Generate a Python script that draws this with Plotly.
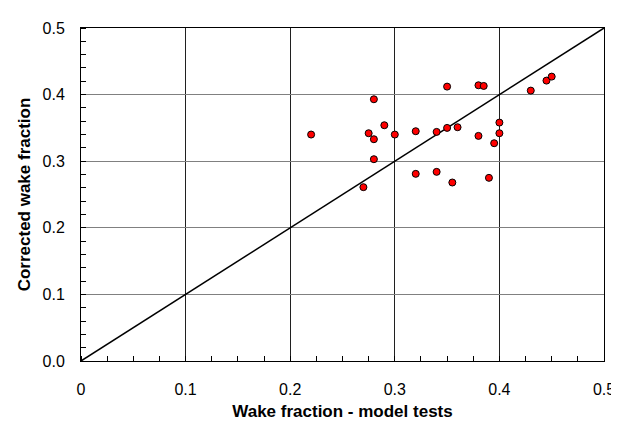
import plotly.graph_objects as go

# Data
wake_model = [0.22, 0.27, 0.275, 0.28, 0.28, 0.28, 0.29, 0.30, 0.32, 0.32,
              0.34, 0.34, 0.35, 0.35, 0.355, 0.36, 0.38, 0.38, 0.385, 0.39,
              0.395, 0.40, 0.40, 0.43, 0.445, 0.45]
wake_corrected = [0.340, 0.261, 0.342, 0.393, 0.333, 0.303, 0.354, 0.340, 0.345, 0.281,
                  0.344, 0.284, 0.412, 0.350, 0.268, 0.351, 0.414, 0.338, 0.413, 0.275,
                  0.327, 0.358, 0.342, 0.406, 0.421, 0.427]
diag_x = [0.0, 0.5]
diag_y = [0.0, 0.5]
x_ticks = [0, 0.1, 0.2, 0.3, 0.4, 0.5]
x_ticktext = ["0", "0.1", "0.2", "0.3", "0.4", "0.5"]
y_ticks = [0, 0.1, 0.2, 0.3, 0.4, 0.5]
y_ticktext = ["0.0", "0.1", "0.2", "0.3", "0.4", "0.5"]

FONT = "Liberation Sans, Arial, sans-serif"

fig = go.Figure()
fig.add_trace(go.Scatter(x=diag_x, y=diag_y, mode="lines",
                         line=dict(color="black", width=1.5),
                         showlegend=False, hoverinfo="skip"))
fig.add_trace(go.Scatter(x=wake_model, y=wake_corrected, mode="markers",
                         marker=dict(color="#ff0000", size=7,
                                     line=dict(color="black", width=1)),
                         showlegend=False))

fig.update_layout(
    width=619, height=421,
    margin=dict(l=73, r=14, t=18, b=67),
    paper_bgcolor="white", plot_bgcolor="white",
    font=dict(family=FONT, size=16, color="black"),
)
fig.update_xaxes(
    range=[0, 0.5], tickvals=x_ticks, ticktext=x_ticktext,
    showgrid=True, gridcolor="#202020", gridwidth=1,
    showline=True, linecolor="black", linewidth=1, mirror=True,
    ticks="", zeroline=False, ticklabelstandoff=14,
    minor=dict(dtick=0.025, ticks="inside", ticklen=5, tickcolor="black", showgrid=False),
    tickfont=dict(size=16),
    title=dict(text="<b>Wake fraction - model tests</b>", font=dict(size=17), standoff=7),
)
fig.update_yaxes(
    range=[0, 0.5], tickvals=y_ticks, ticktext=y_ticktext,
    showgrid=True, gridcolor="#808080", gridwidth=1,
    showline=True, linecolor="black", linewidth=1, mirror=True,
    ticks="", zeroline=False, ticklabelstandoff=12,
    minor=dict(dtick=0.02, ticks="inside", ticklen=5, tickcolor="black", showgrid=False),
    tickfont=dict(size=16),
    title=dict(text="<b>Corrected wake fraction</b>", font=dict(size=17), standoff=7),
)

fig.write_html("out.html")
